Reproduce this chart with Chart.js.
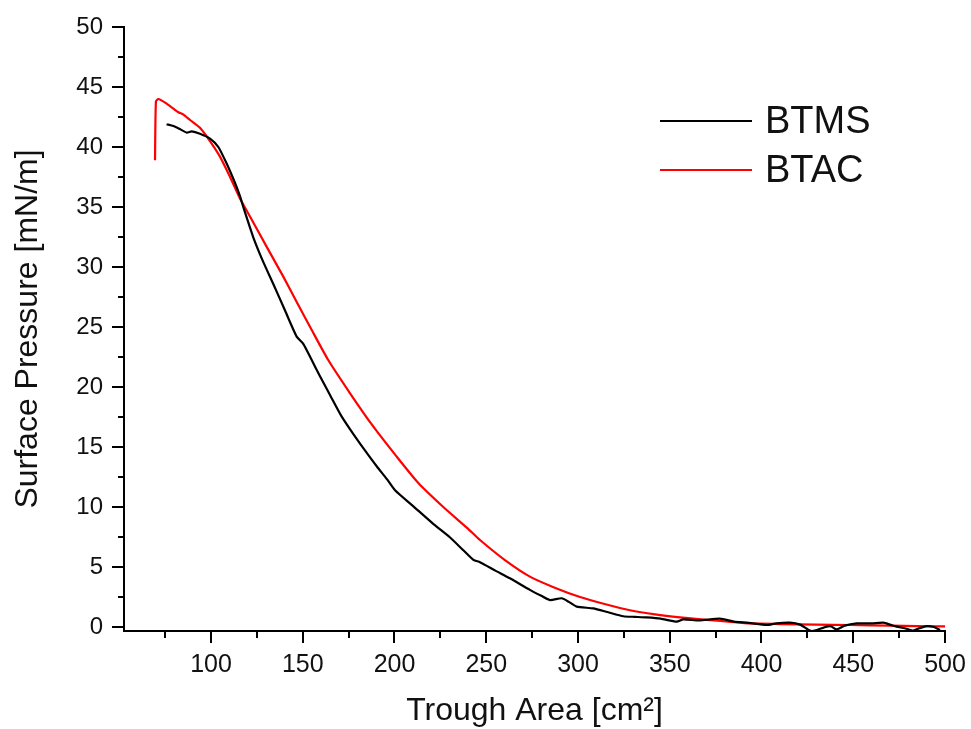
<!DOCTYPE html>
<html>
<head>
<meta charset="utf-8">
<script src="https://cdn.jsdelivr.net/npm/chart.js@4/dist/chart.umd.min.js"></script>
<style>
  html, body { margin: 0; padding: 0; background: #fff; }
  #wrap { width: 971px; height: 729px; position: relative; }
</style>
</head>
<body>
<div id="wrap"><canvas id="grafico"></canvas></div>
<script>
// BTMS isotherm (black)
const btmsArea = [75.8, 79.5, 83, 86.8, 89.5, 94, 99.5, 104, 108.6, 113.1, 115.8, 117.6, 123, 128, 133.9, 140, 146.7, 150.3, 154.9, 159.4, 165, 171, 177.5, 184, 190.3, 196, 200.3, 210, 221.1, 230, 237.5, 243, 246.6, 255, 262.9, 273.8, 280, 284.7, 291.1, 295, 299.3, 308.3, 316, 324.7, 331, 337.4, 345, 353.8, 357.4, 366, 377.4, 385, 393, 402.8, 408, 415.5, 421, 426.4, 429, 435.5, 438, 440.9, 445, 451.9, 460, 466.4, 470, 473.7, 478, 482.7, 486, 490, 494, 497.3];
const btmsPressure = [41.9, 41.75, 41.5, 41.2, 41.3, 41.1, 40.7, 40.0, 38.6, 37.0, 35.9, 35.0, 32.5, 30.6, 28.6, 26.5, 24.2, 23.6, 22.25, 20.9, 19.3, 17.6, 16.1, 14.7, 13.4, 12.3, 11.4, 10.1, 8.6, 7.5, 6.4, 5.6, 5.4, 4.7, 4.06, 3.1, 2.6, 2.25, 2.4, 2.1, 1.7, 1.55, 1.25, 0.9, 0.85, 0.8, 0.7, 0.45, 0.64, 0.55, 0.7, 0.45, 0.35, 0.17, 0.3, 0.36, 0.2, -0.3, -0.3, 0.03, 0.05, -0.2, 0.1, 0.3, 0.3, 0.36, 0.2, 0.03, -0.1, -0.3, -0.1, 0.08, 0.0, -0.25];

// BTAC isotherm (red)
const btacArea = [69.5, 70.0, 71.3, 75, 79.5, 82.2, 85, 88.6, 94, 98.5, 104.9, 110.4, 115.8, 122, 130.3, 139.4, 147, 154.9, 163.9, 175.7, 188, 201.2, 213, 226.6, 240, 246.6, 260, 273.8, 287, 301.1, 315, 328.3, 342, 355.6, 370, 382, 393.7, 410, 430, 448.2, 470, 485, 500];
const btacPressure = [38.9, 43.8, 44.0, 43.7, 43.2, 42.9, 42.7, 42.25, 41.6, 40.7, 39.2, 37.5, 35.7, 34.0, 31.7, 29.2, 27.0, 24.75, 22.25, 19.5, 16.8, 14.2, 12.0, 10.0, 8.2, 7.25, 5.6, 4.2, 3.3, 2.5, 1.9, 1.4, 1.05, 0.8, 0.6, 0.45, 0.3, 0.25, 0.2, 0.17, 0.12, 0.08, 0.05];

// eixos
const xMajor = [100, 150, 200, 250, 300, 350, 400, 450, 500];
const xMinor = [75, 125, 175, 225, 275, 325, 375, 425, 475];
const yMajor = [0, 5, 10, 15, 20, 25, 30, 35, 40, 45, 50];
const yMinor = [2.5, 7.5, 12.5, 17.5, 22.5, 27.5, 32.5, 37.5, 42.5, 47.5];

const fonte = '"Liberation Sans", Arial, sans-serif';
const corTexto = '#111';

function pares(xs, ys) {
  return xs.map((x, i) => ({ x: x, y: ys[i] }));
}

// marcas dos eixos (maiores e menores) + legenda dentro do gráfico
const extras = {
  id: 'extras',
  afterDraw(chart) {
    const ctx = chart.ctx;
    const sx = chart.scales.x, sy = chart.scales.y;
    const area = chart.chartArea;
    ctx.save();
    ctx.strokeStyle = '#000';
    ctx.lineWidth = 2;
    const marcaX = (v, len) => {
      const px = Math.round(sx.getPixelForValue(v));
      ctx.beginPath();
      ctx.moveTo(px, area.bottom);
      ctx.lineTo(px, area.bottom + len);
      ctx.stroke();
    };
    const marcaY = (v, len) => {
      const py = Math.round(sy.getPixelForValue(v));
      ctx.beginPath();
      ctx.moveTo(area.left, py);
      ctx.lineTo(area.left - len, py);
      ctx.stroke();
    };
    xMajor.forEach(v => marcaX(v, 12));
    xMinor.forEach(v => marcaX(v, 7));
    yMajor.forEach(v => marcaY(v, 12));
    yMinor.forEach(v => marcaY(v, 6));

    // legenda
    ctx.font = '38px ' + fonte;
    ctx.textBaseline = 'middle';
    ctx.fillStyle = corTexto;
    chart.data.datasets.forEach((ds, i) => {
      const y = 121 + i * 49;
      ctx.strokeStyle = ds.borderColor;
      ctx.lineWidth = 2;
      ctx.beginPath();
      ctx.moveTo(660, y);
      ctx.lineTo(752, y);
      ctx.stroke();
      ctx.fillText(ds.label, 765, y + 2);
    });
    ctx.restore();
  }
};

document.addEventListener('DOMContentLoaded', function () {
  const ctx = document.getElementById('grafico');
  new Chart(ctx, {
    type: 'scatter',
    data: {
      datasets: [
        {
          label: 'BTMS',
          data: pares(btmsArea, btmsPressure),
          showLine: true,
          borderColor: '#000000',
          backgroundColor: '#000000',
          borderWidth: 2.2,
          pointRadius: 0,
          tension: 0.2
        },
        {
          label: 'BTAC',
          data: pares(btacArea, btacPressure),
          showLine: true,
          borderColor: '#ff0000',
          backgroundColor: '#ff0000',
          borderWidth: 2.2,
          pointRadius: 0,
          tension: 0.2
        }
      ]
    },
    options: {
      responsive: true,
      maintainAspectRatio: false,
      animation: false,
      layout: { padding: { top: 27, right: 26, left: 0, bottom: 0 } },
      plugins: {
        legend: { display: false },
        tooltip: { enabled: false }
      },
      scales: {
        x: {
          type: 'linear',
          min: 52.6,
          max: 500,
          afterBuildTicks: s => { s.ticks = xMajor.map(v => ({ value: v })); },
          afterFit: s => { s.height = 98; s.paddingLeft = 0; s.paddingRight = 0; },
          grid: { display: false, drawTicks: false },
          border: { display: true, width: 2, color: '#000' },
          ticks: { color: corTexto, font: { family: fonte, size: 25 }, padding: 19, maxRotation: 0 },
          title: {
            display: true,
            text: 'Trough Area [cm²]',
            color: corTexto,
            font: { family: fonte, size: 32, lineHeight: 1 },
            padding: { top: 0, bottom: 2 }
          }
        },
        y: {
          type: 'linear',
          min: -0.33,
          max: 50,
          afterBuildTicks: s => { s.ticks = yMajor.map(v => ({ value: v })); },
          afterFit: s => { s.width = 124; s.paddingTop = 0; s.paddingBottom = 0; },
          grid: { display: false, drawTicks: false },
          border: { display: true, width: 2, color: '#000' },
          ticks: { color: corTexto, font: { family: fonte, size: 24 }, padding: 21 },
          title: {
            display: true,
            text: 'Surface Pressure [mN/m]',
            color: corTexto,
            font: { family: fonte, size: 32, lineHeight: 1 },
            padding: { top: 12, bottom: 0 }
          }
        }
      }
    },
    plugins: [extras]
  });
});
</script>
</body>
</html>
